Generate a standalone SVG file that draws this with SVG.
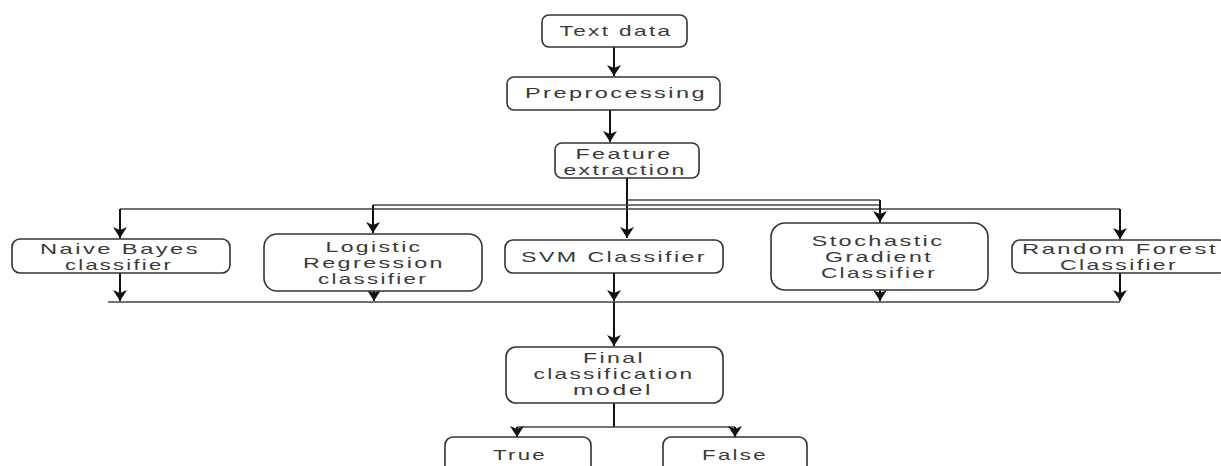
<svg xmlns="http://www.w3.org/2000/svg" width="1221" height="466" viewBox="0 0 1221 466">
<style>
.box{fill:#fff;stroke:#333;stroke-width:1.6}
.t{font-family:"Liberation Sans",Arial,sans-serif;font-size:14.5px;letter-spacing:1.5px;fill:#3a3a3a;text-anchor:middle}
.c{fill:none;stroke:#111;stroke-width:2}
.h{fill:none;stroke:#444;stroke-width:1.5}
</style>
<defs>
<marker id="ah" markerUnits="userSpaceOnUse" markerWidth="18" markerHeight="18" viewBox="-13 -9 15 18" refX="0" refY="0" orient="auto">
<path d="M0,0 L-11,-7 L-8,0 L-11,7 Z" fill="#111"/>
</marker>
</defs>
<rect width="1221" height="466" fill="#fff"/>

<g id="connectors">
<path class="c" d="M614,47 V76" marker-end="url(#ah)"/>
<path class="c" d="M610,110 V142" marker-end="url(#ah)"/>
<path class="c" d="M627,178 V238" marker-end="url(#ah)"/>
<path class="h" d="M627,200 H880"/>
<path class="h" d="M373,205 H880"/>
<path class="h" d="M120,209 H1120"/>
<path class="c" d="M120,209 V238" marker-end="url(#ah)"/>
<path class="c" d="M373,205 V233" marker-end="url(#ah)"/>
<path class="c" d="M880,200 V222" marker-end="url(#ah)"/>
<path class="c" d="M1120,209 V239" marker-end="url(#ah)"/>
<path class="c" d="M120,273 V301" marker-end="url(#ah)"/>
<path class="c" d="M374,291 V301" marker-end="url(#ah)"/>
<path class="c" d="M614,273 V301" marker-end="url(#ah)"/>
<path class="c" d="M880,290 V301" marker-end="url(#ah)"/>
<path class="c" d="M1120,273 V301" marker-end="url(#ah)"/>
<path class="h" d="M108,302 H1120"/>
<path class="c" d="M614,302 V346" marker-end="url(#ah)"/>
<path class="c" d="M614,403 V427"/>
<path class="h" d="M517,427 H735"/>
<path class="c" d="M517,427 V437" marker-end="url(#ah)"/>
<path class="c" d="M735,427 V437" marker-end="url(#ah)"/>
</g>

<g id="text-data">
<rect class="box" x="542" y="15" width="145" height="32" rx="7"/>
<text class="t" x="616" y="36" textLength="113" lengthAdjust="spacingAndGlyphs">Text data</text>
</g>
<g id="preprocessing">
<rect class="box" x="507" y="77" width="213" height="33" rx="7"/>
<text class="t" x="616" y="98" textLength="182" lengthAdjust="spacingAndGlyphs">Preprocessing</text>
</g>
<g id="feature-extraction">
<rect class="box" x="555" y="143" width="144" height="35" rx="7"/>
<text class="t" x="624" y="159" textLength="97" lengthAdjust="spacingAndGlyphs">Feature</text>
<text class="t" x="625" y="175" textLength="123" lengthAdjust="spacingAndGlyphs">extraction</text>
</g>
<g id="naive-bayes">
<rect class="box" x="12" y="239" width="218" height="34" rx="8"/>
<text class="t" x="120" y="254" textLength="160" lengthAdjust="spacingAndGlyphs">Naive Bayes</text>
<text class="t" x="119" y="270" textLength="108" lengthAdjust="spacingAndGlyphs">classifier</text>
</g>
<g id="logistic-regression">
<rect class="box" x="264" y="234" width="218" height="57" rx="13"/>
<text class="t" x="374" y="252" textLength="97" lengthAdjust="spacingAndGlyphs">Logistic</text>
<text class="t" x="374" y="268" textLength="142" lengthAdjust="spacingAndGlyphs">Regression</text>
<text class="t" x="373" y="284" textLength="110" lengthAdjust="spacingAndGlyphs">classifier</text>
</g>
<g id="svm">
<rect class="box" x="505" y="240" width="218" height="33" rx="8"/>
<text class="t" x="614" y="262" textLength="186" lengthAdjust="spacingAndGlyphs">SVM Classifier</text>
</g>
<g id="stochastic-gradient">
<rect class="box" x="771" y="223" width="217" height="67" rx="14"/>
<text class="t" x="878" y="246" textLength="133" lengthAdjust="spacingAndGlyphs">Stochastic</text>
<text class="t" x="879" y="262" textLength="108" lengthAdjust="spacingAndGlyphs">Gradient</text>
<text class="t" x="879" y="278" textLength="116" lengthAdjust="spacingAndGlyphs">Classifier</text>
</g>
<g id="random-forest">
<rect class="box" x="1012" y="240" width="215" height="33" rx="8"/>
<text class="t" x="1120" y="254" textLength="196" lengthAdjust="spacingAndGlyphs">Random Forest</text>
<text class="t" x="1119" y="270" textLength="118" lengthAdjust="spacingAndGlyphs">Classifier</text>
</g>
<g id="final-model">
<rect class="box" x="506" y="347" width="217" height="56" rx="10"/>
<text class="t" x="614" y="363" textLength="62" lengthAdjust="spacingAndGlyphs">Final</text>
<text class="t" x="614" y="379" textLength="161" lengthAdjust="spacingAndGlyphs">classification</text>
<text class="t" x="613" y="395" textLength="80" lengthAdjust="spacingAndGlyphs">model</text>
</g>
<g id="true">
<rect class="box" x="445" y="437" width="146" height="45" rx="8"/>
<text class="t" x="520" y="460" textLength="54" lengthAdjust="spacingAndGlyphs">True</text>
</g>
<g id="false">
<rect class="box" x="663" y="437" width="144" height="45" rx="8"/>
<text class="t" x="735" y="460" textLength="66" lengthAdjust="spacingAndGlyphs">False</text>
</g>
</svg>
